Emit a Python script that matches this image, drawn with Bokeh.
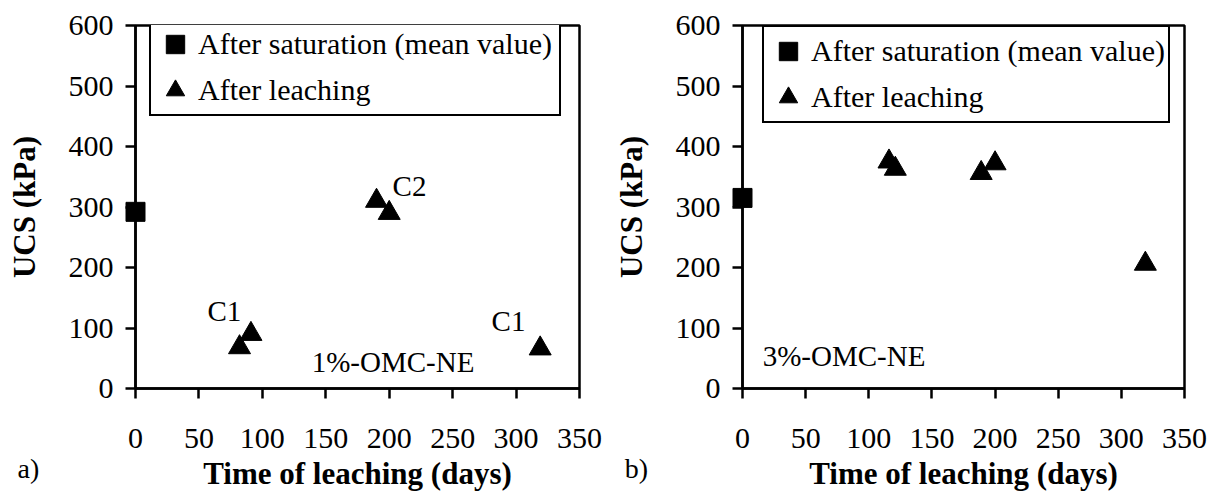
from bokeh.plotting import figure
from bokeh.layouts import row
from bokeh.models import Range1d, FixedTicker, Label, Legend, LegendItem, ColumnDataSource
from bokeh.embed import file_html
from bokeh.resources import INLINE
from bokeh.core.properties import value

# ---------------- data ----------------
x_ticks = [0, 50, 100, 150, 200, 250, 300, 350]
y_ticks = [0, 100, 200, 300, 400, 500, 600]

# panel a) 1%-OMC-NE
sat_days_a = [0]
sat_ucs_a = [292]
leach_days_a = [82, 91, 190, 200, 319]
leach_ucs_a = [68, 90, 310, 290, 66]
ann_text_a = ["C1", "C2", "C1", "1%-OMC-NE"]
ann_days_a = [70, 216, 294, 203]
ann_ucs_a = [128, 334, 112, 43]

# panel b) 3%-OMC-NE
sat_days_b = [0]
sat_ucs_b = [315]
leach_days_b = [116, 121, 189, 200, 319]
leach_ucs_b = [375, 363, 356, 372, 206]
ann_text_b = ["3%-OMC-NE"]
ann_days_b = [16]
ann_ucs_b = [53]

panel_tags = ["a)", "b)"]
x_title = "Time of leaching (days)"
y_title = "UCS (kPa)"
legend_labels = ["After saturation (mean value)", "After leaching"]

FONT = "Liberation Serif"
LW = 2.5
H = 493


def make_panel(width, border_left, border_right, sat_d, sat_u, le_d, le_u, ann_t, ann_d,
               ann_u, ann_align, tag, tag_x, legend_xy, legend_spacing, legend_label_w):
    p = figure(width=width, height=H, output_backend="svg", toolbar_location=None,
               x_range=Range1d(0, 350), y_range=Range1d(0, 600),
               min_border_left=border_left, min_border_top=25, min_border_right=border_right,
               min_border_bottom=H - 25 - 363)
    p.grid.visible = False
    p.outline_line_color = "black"
    p.outline_line_width = LW
    p.outline_line_alpha = 1
    p.background_fill_color = "white"
    p.border_fill_color = "white"

    for ax in (p.xaxis[0], p.yaxis[0]):
        ax.axis_line_width = LW
        ax.axis_line_color = "black"
        ax.major_tick_line_width = LW
        ax.major_tick_line_color = "black"
        ax.major_tick_in = 0
        ax.major_tick_out = 10
        ax.minor_tick_line_color = None
        ax.major_label_text_font = FONT
        ax.major_label_text_font_size = "30px"
        ax.major_label_text_color = "black"
        ax.axis_label_text_font = FONT
        ax.axis_label_text_font_style = "bold"
        ax.axis_label_text_font_size = "31px"
        ax.axis_label_text_color = "black"

    p.xaxis.ticker = FixedTicker(ticks=x_ticks)
    p.yaxis.ticker = FixedTicker(ticks=y_ticks)
    p.xaxis.axis_label = x_title
    p.yaxis.axis_label = y_title
    p.xaxis.major_label_standoff = 30
    p.xaxis.axis_label_standoff = 5
    p.yaxis.major_label_standoff = 12
    p.yaxis.axis_label_standoff = 24

    sq = p.scatter(sat_d, sat_u, marker="square", size=19, color="black", level="overlay")
    tri = p.scatter(le_d, le_u, marker="triangle", size=22, color="black")

    src = ColumnDataSource(dict(x=ann_d, y=ann_u, t=ann_t))
    p.text(x="x", y="y", text="t", source=src, text_font=value(FONT),
           text_font_size="29px", text_align=ann_align, text_baseline="middle",
           text_color="black")

    legend = Legend(items=[LegendItem(label=legend_labels[0], renderers=[sq]),
                           LegendItem(label=legend_labels[1], renderers=[tri])],
                    location=legend_xy)
    legend.border_line_color = "black"
    legend.border_line_width = 2
    legend.border_line_alpha = 1
    legend.label_text_font = FONT
    legend.label_text_font_size = "30px"
    legend.label_text_color = "black"
    legend.glyph_width = 46
    legend.glyph_height = 46
    legend.label_standoff = 0
    legend.label_width = legend_label_w
    legend.padding = 1
    legend.spacing = legend_spacing
    legend.margin = 0
    legend.background_fill_alpha = 1
    p.add_layout(legend, "center")

    # panel tag in the lower-left corner of the canvas (side panel, so it is not clipped)
    p.add_layout(Label(x=tag_x, y=468, x_units="canvas", y_units="canvas", text=tag,
                       text_font=FONT, text_font_size="28px", text_align="center",
                       text_baseline="middle", text_color="black"), "right")
    return p


# panel a: frame 135..579 ; panel b starts at 605, frame 742..1184
pa = make_panel(605, 135, 26, sat_days_a, sat_ucs_a, leach_days_a, leach_ucs_a,
                ann_text_a, ann_days_a, ann_ucs_a, "center", panel_tags[0], 28,
                (14, 272), -11, 360)
pb = make_panel(604, 137, 25, sat_days_b, sat_ucs_b, leach_days_b, leach_ucs_b,
                ann_text_b, ann_days_b, ann_ucs_b, "left", panel_tags[1], 636 - 605,
                (20, 265), -5, 356)

layout = row(pa, pb)
open("out.html", "w").write(file_html(layout, INLINE))
